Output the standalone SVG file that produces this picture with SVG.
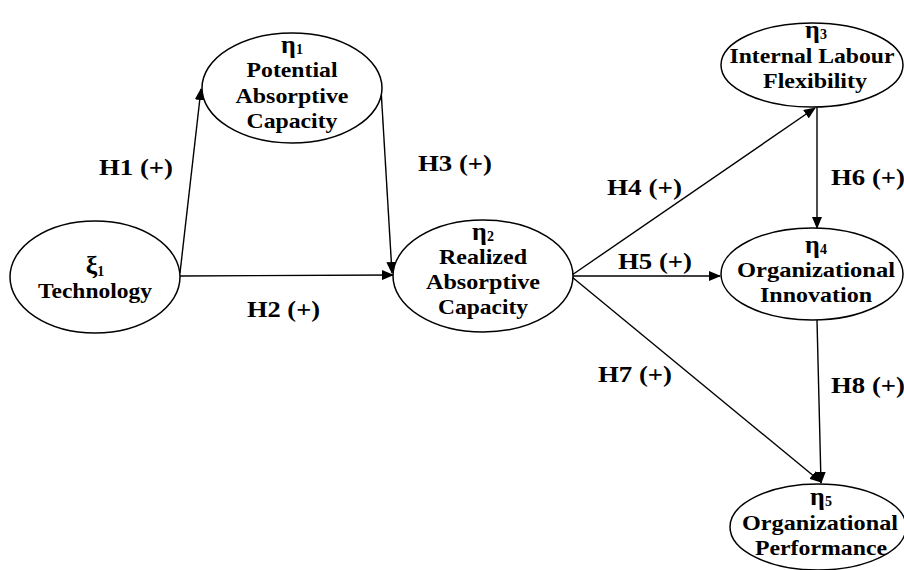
<svg xmlns="http://www.w3.org/2000/svg" width="904" height="570" viewBox="0 0 904 570">
  <style>
    .node { fill: #ffffff; stroke: #000000; stroke-width: 1.5; }
    text { font-family: 'Liberation Serif', 'Times New Roman', serif; font-weight: 700; fill: #000000; }
    .lbl { font-size: 21px; text-anchor: middle; }
    .sym { font-size: 26px; text-anchor: middle; }
    .sub { font-size: 14px; }
    .hyp { font-size: 23px; }
    .edge { fill: none; stroke: #000000; stroke-width: 1.4; marker-end: url(#arrow); }
  </style>
  <defs>
    <marker id="arrow" markerUnits="userSpaceOnUse" markerWidth="12" markerHeight="10" refX="11" refY="5" orient="auto">
      <path d="M0,0 L12,5 L0,10 Z" fill="#000000"/>
    </marker>
  </defs>
  <rect width="904" height="570" fill="#ffffff"/>

  <!-- hypothesised paths -->
  <g id="connectors">
    <line class="edge" x1="180" y1="273" x2="201" y2="89"/>
    <line class="edge" x1="180" y1="276" x2="393" y2="275"/>
    <line class="edge" x1="381" y1="89" x2="392" y2="273"/>
    <line class="edge" x1="572" y1="275" x2="815" y2="108"/>
    <line class="edge" x1="572" y1="276" x2="720" y2="276"/>
    <line class="edge" x1="572" y1="277" x2="821" y2="482"/>
    <line class="edge" x1="817" y1="107" x2="817" y2="228"/>
    <line class="edge" x1="817" y1="320" x2="821" y2="483"/>
    <text class="hyp" x="99" y="175" textLength="74" lengthAdjust="spacingAndGlyphs">H1 (+)</text>
    <text class="hyp" x="247" y="317" textLength="73" lengthAdjust="spacingAndGlyphs">H2 (+)</text>
    <text class="hyp" x="418" y="171" textLength="74" lengthAdjust="spacingAndGlyphs">H3 (+)</text>
    <text class="hyp" x="607" y="195" textLength="75" lengthAdjust="spacingAndGlyphs">H4 (+)</text>
    <text class="hyp" x="618" y="269" textLength="74" lengthAdjust="spacingAndGlyphs">H5 (+)</text>
    <text class="hyp" x="831" y="185" textLength="74" lengthAdjust="spacingAndGlyphs">H6 (+)</text>
    <text class="hyp" x="598" y="382" textLength="74" lengthAdjust="spacingAndGlyphs">H7 (+)</text>
    <text class="hyp" x="831" y="393" textLength="74" lengthAdjust="spacingAndGlyphs">H8 (+)</text>
  </g>

  <g id="technology">
    <ellipse class="node" cx="95" cy="277" rx="85" ry="56"/>
    <text class="sym" x="95" y="274">ξ<tspan class="sub" dy="2">1</tspan></text>
    <text class="lbl" x="95" y="298" textLength="114" lengthAdjust="spacingAndGlyphs">Technology</text>
  </g>

  <g id="potential-acap">
    <ellipse class="node" cx="292" cy="88" rx="90" ry="55"/>
    <text class="sym" x="292" y="53">η<tspan class="sub" dy="1">1</tspan></text>
    <text class="lbl" x="292" y="77" textLength="91" lengthAdjust="spacingAndGlyphs">Potential</text>
    <text class="lbl" x="292" y="103" textLength="113" lengthAdjust="spacingAndGlyphs">Absorptive</text>
    <text class="lbl" x="292" y="128" textLength="91" lengthAdjust="spacingAndGlyphs">Capacity</text>
  </g>

  <g id="realized-acap">
    <ellipse class="node" cx="483" cy="276" rx="90" ry="56"/>
    <text class="sym" x="483" y="240">η<tspan class="sub" dy="1">2</tspan></text>
    <text class="lbl" x="483" y="264" textLength="88" lengthAdjust="spacingAndGlyphs">Realized</text>
    <text class="lbl" x="483" y="289" textLength="114" lengthAdjust="spacingAndGlyphs">Absorptive</text>
    <text class="lbl" x="483" y="314" textLength="90" lengthAdjust="spacingAndGlyphs">Capacity</text>
  </g>

  <g id="labour-flexibility">
    <ellipse class="node" cx="812" cy="65" rx="91" ry="42"/>
    <text class="sym" x="816" y="38">η<tspan class="sub" dy="1">3</tspan></text>
    <text class="lbl" x="812" y="63" textLength="165" lengthAdjust="spacingAndGlyphs">Internal Labour</text>
    <text class="lbl" x="815" y="88" textLength="104" lengthAdjust="spacingAndGlyphs">Flexibility</text>
  </g>

  <g id="org-innovation">
    <ellipse class="node" cx="812" cy="274" rx="91" ry="46"/>
    <text class="sym" x="816" y="253">η<tspan class="sub" dy="1">4</tspan></text>
    <text class="lbl" x="816" y="277" textLength="158" lengthAdjust="spacingAndGlyphs">Organizational</text>
    <text class="lbl" x="816" y="302" textLength="112" lengthAdjust="spacingAndGlyphs">Innovation</text>
  </g>

  <g id="org-performance">
    <ellipse class="node" cx="818" cy="527" rx="88" ry="43"/>
    <text class="sym" x="821" y="505">η<tspan class="sub" dy="1">5</tspan></text>
    <text class="lbl" x="820" y="530" textLength="156" lengthAdjust="spacingAndGlyphs">Organizational</text>
    <text class="lbl" x="821" y="555" textLength="132" lengthAdjust="spacingAndGlyphs">Performance</text>
  </g>
</svg>
